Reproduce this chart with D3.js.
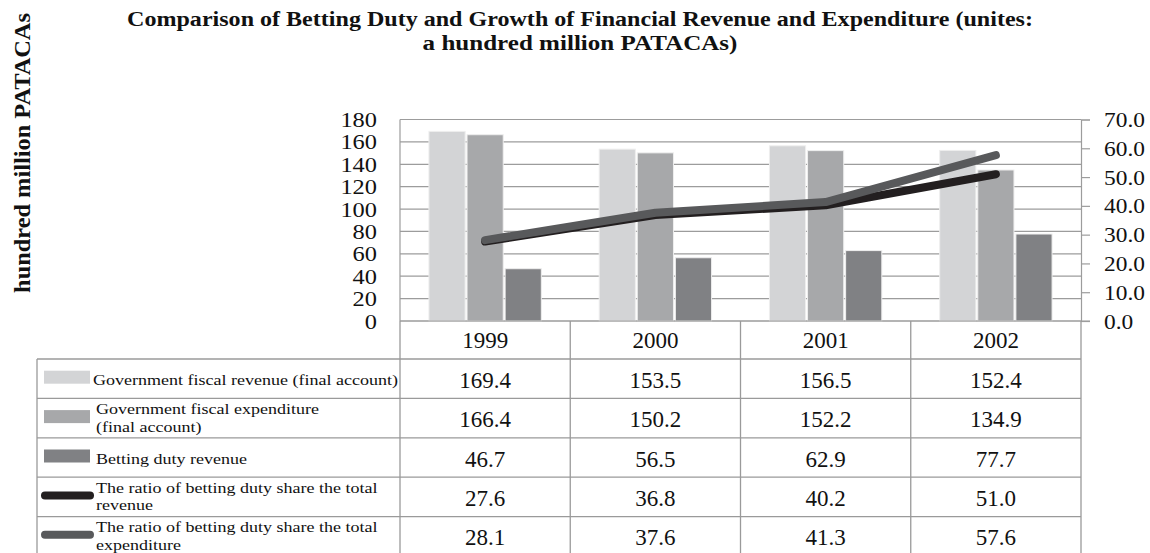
<!DOCTYPE html>
<html>
<head>
<meta charset="utf-8">
<script src="https://cdn.jsdelivr.net/npm/d3@7"></script>
<style>
  html, body { margin: 0; padding: 0; background: #fff; }
  svg { display: block; }
  svg text { font-family: "Liberation Serif", "Times New Roman", Times, serif !important; fill: #111; }
</style>
</head>
<body>
<svg id="chart" width="1150" height="553"></svg>
<script>
// ---------------- data ----------------
const years = ["1999", "2000", "2001", "2002"];
const fiscalRevenue = [169.4, 153.5, 156.5, 152.4];
const fiscalExpenditure = [166.4, 150.2, 152.2, 134.9];
const bettingDutyRevenue = [46.7, 56.5, 62.9, 77.7];
const ratioOfRevenue = [27.6, 36.8, 40.2, 51.0];
const ratioOfExpenditure = [28.1, 37.6, 41.3, 57.6];
const leftTicks = [0, 20, 40, 60, 80, 100, 120, 140, 160, 180];
const rightTicks = [0, 10, 20, 30, 40, 50, 60, 70];
const titleLines = ["Comparison of Betting Duty and Growth of Financial Revenue and Expenditure (unites:",
                    "a hundred million PATACAs)"];
const yAxisTitle = "hundred million PATACAs";
const seriesKeys = ["rev", "exp", "duty", "ratioRev", "ratioExp"];
const seriesLabels = [
  ["Government fiscal revenue (final account)"],
  ["Government fiscal expenditure", "(final account)"],
  [" Betting duty revenue"],
  ["The ratio of betting duty share the total", "revenue"],
  ["The ratio of betting duty share the total", "expenditure"]
];
const seriesValues = [fiscalRevenue, fiscalExpenditure, bettingDutyRevenue, ratioOfRevenue, ratioOfExpenditure];
const barKeys = ["rev", "exp", "duty"];

// ---------------- styles ----------------
const FONT = "Liberation Serif";
const colors = { rev: "#d3d4d6", exp: "#a7a8aa", duty: "#808184", ratioRev: "#231f20", ratioExp: "#58595b" };
const gridColor = "#9c9c9c";
const tableColor = "#9a9a9a";

const svg = d3.select("#chart");

// layout
const plot = { left: 400, right: 1081, top: 119.5, bottom: 321 };
const table = { left: 37, top: 359, rowH: 39.4 };

const x0 = d3.scaleBand().domain(years).range([plot.left, plot.right]);
const groupW = x0.bandwidth() * 0.66;
const x1 = d3.scaleBand().domain(barKeys)
  .range([(x0.bandwidth() - groupW) / 2, (x0.bandwidth() + groupW) / 2])
  .paddingInner(0.05);
const yL = d3.scaleLinear().domain([0, 180]).range([plot.bottom, plot.top]);
const yR = d3.scaleLinear().domain([0, 70]).range([plot.bottom, plot.top]);

// helper: horizontally-stretched text
function stext(parent, x, y, str, opt) {
  const g = parent.append("g").attr("transform", `translate(${x},${y}) scale(${opt.sx || 1},1)`);
  const t = g.append("text")
    .attr("text-anchor", opt.anchor || "start")
    .attr("font-family", FONT)
    .style("font-size", opt.size + "px")
    .style("font-weight", opt.weight || "normal")
    .text(str);
  let sx = opt.sx || 1;
  if (opt.width) {
    const len = t.node().getComputedTextLength();
    sx = opt.width / len;
    g.attr("transform", `translate(${x},${y}) scale(${sx},1)`);
  }
  return sx;
}

// ---------------- title ----------------
stext(svg, 580, 25.5, titleLines[0], { size: 21, weight: "bold", anchor: "middle", width: 906 });
stext(svg, 580, 49.5, titleLines[1], { size: 21, weight: "bold", anchor: "middle", width: 315 });

// y axis title (rotated)
const yTitleG = svg.append("g").attr("transform", "translate(30,153) rotate(-90)");
stext(yTitleG, 0, 0, yAxisTitle, { size: 23, weight: "bold", anchor: "middle", width: 280 });

// ---------------- grid ----------------
svg.append("g").selectAll("line").data(leftTicks).join("line")
  .attr("x1", plot.left).attr("x2", plot.right)
  .attr("y1", d => yL(d)).attr("y2", d => yL(d))
  .attr("stroke", gridColor).attr("stroke-width", 1.2);

svg.append("line").attr("x1", plot.left).attr("x2", plot.left).attr("y1", plot.top).attr("y2", plot.bottom)
  .attr("stroke", gridColor).attr("stroke-width", 1.2);

// ---------------- left axis ----------------
const gL = svg.append("g").attr("transform", `translate(${plot.left},0)`)
  .call(d3.axisLeft(yL).tickValues(leftTicks).tickSize(0).tickPadding(0).tickFormat(d3.format("d")));
gL.attr("font-family", FONT);
gL.select(".domain").remove();
gL.selectAll(".tick text")
  .attr("x", 0).attr("dy", null)
  .attr("transform", `translate(-23,7) scale(1.22,1)`)
  .attr("font-family", FONT)
  .style("font-size", "20px").attr("fill", "#111");

// ---------------- right axis ----------------
const gR = svg.append("g").attr("transform", `translate(${plot.right},0)`)
  .call(d3.axisRight(yR).tickValues(rightTicks).tickSize(9).tickPadding(0).tickFormat(d3.format(".1f")));
gR.attr("font-family", FONT);
gR.select(".domain").attr("stroke", gridColor).attr("stroke-width", 1.2);
gR.selectAll(".tick line").attr("stroke", gridColor).attr("stroke-width", 1.2);
gR.selectAll(".tick text")
  .attr("x", 0).attr("dy", null)
  .attr("transform", `translate(23,7) scale(1.17,1)`)
  .attr("font-family", FONT)
  .style("font-size", "20px").attr("fill", "#111");

// ---------------- bars ----------------
const barData = [];
years.forEach((yr, i) => barKeys.forEach((k, j) => barData.push({ year: yr, key: k, value: seriesValues[j][i] })));
svg.append("g").selectAll("rect").data(barData).join("rect")
  .attr("x", d => x0(d.year) + x1(d.key))
  .attr("width", x1.bandwidth())
  .attr("y", d => yL(d.value))
  .attr("height", d => yL(0) - yL(d.value))
  .attr("fill", d => colors[d.key])
  .attr("stroke", "#eeeeee").attr("stroke-width", 1);

svg.append("line").attr("x1", plot.left).attr("x2", plot.right + 9).attr("y1", plot.bottom).attr("y2", plot.bottom)
  .attr("stroke", gridColor).attr("stroke-width", 1.2);
svg.append("line").attr("x1", plot.left).attr("x2", plot.right).attr("y1", plot.top).attr("y2", plot.top)
  .attr("stroke", gridColor).attr("stroke-width", 1.2);

// ---------------- lines ----------------
const lineGen = d3.line().x((d, i) => x0(years[i]) + x0.bandwidth() / 2).y(d => yR(d));
[["ratioRev", ratioOfRevenue], ["ratioExp", ratioOfExpenditure]].forEach(([k, vals]) => {
  svg.append("path").datum(vals)
    .attr("d", lineGen)
    .attr("fill", "none")
    .attr("stroke", colors[k])
    .attr("stroke-width", 8)
    .attr("stroke-linecap", "round")
    .attr("stroke-linejoin", "round");
});

// ---------------- data table ----------------
const rowY = d3.scaleBand().domain(seriesKeys).range([table.top, table.top + table.rowH * seriesKeys.length]);
const tg = svg.append("g");

tg.selectAll("line.h").data(seriesKeys).join("line").attr("class", "h")
  .attr("x1", table.left).attr("x2", plot.right)
  .attr("y1", d => rowY(d)).attr("y2", d => rowY(d))
  .attr("stroke", tableColor).attr("stroke-width", 1.3);
tg.append("line").attr("x1", table.left).attr("x2", table.left)
  .attr("y1", table.top).attr("y2", 553).attr("stroke", tableColor).attr("stroke-width", 1.3);
const colEdges = years.map(y => x0(y)).concat([plot.right]);
tg.selectAll("line.v").data(colEdges).join("line").attr("class", "v")
  .attr("x1", d => d).attr("x2", d => d)
  .attr("y1", plot.bottom).attr("y2", 553)
  .attr("stroke", tableColor).attr("stroke-width", 1.3);

// header: years
years.forEach(yr => stext(tg, x0(yr) + x0.bandwidth() / 2, 348, yr, { size: 23, anchor: "middle" }));

// label font horizontal factor, fitted on the first label
let labelSx = null;
seriesKeys.forEach((k, r) => {
  const cy = rowY(k) + rowY.bandwidth() / 2;
  seriesValues[r].forEach((v, i) => {
    stext(tg, x0(years[i]) + x0.bandwidth() / 2, cy + 9, d3.format(".1f")(v), { size: 23, anchor: "middle" });
  });
  if (barKeys.includes(k)) {
    tg.append("rect").attr("x", 44).attr("y", cy - 8).attr("width", 46).attr("height", 13)
      .attr("fill", colors[k]);
  } else {
    tg.append("line").attr("x1", 45).attr("x2", 90).attr("y1", cy - 1.5).attr("y2", cy - 1.5)
      .attr("stroke", colors[k]).attr("stroke-width", 8).attr("stroke-linecap", "round");
  }
  const lines = seriesLabels[r];
  if (lines.length === 1) {
    if (labelSx === null) labelSx = stext(tg, 93, cy + 6, lines[0], { size: 15.5, width: 305 });
    else stext(tg, 96, cy + 6, lines[0], { size: 15.5, sx: labelSx });
  } else {
    stext(tg, 96, cy - 4, lines[0], { size: 15.5, sx: labelSx });
    stext(tg, 96, cy + 13.5, lines[1], { size: 15.5, sx: labelSx });
  }
});
</script>
</body>
</html>
